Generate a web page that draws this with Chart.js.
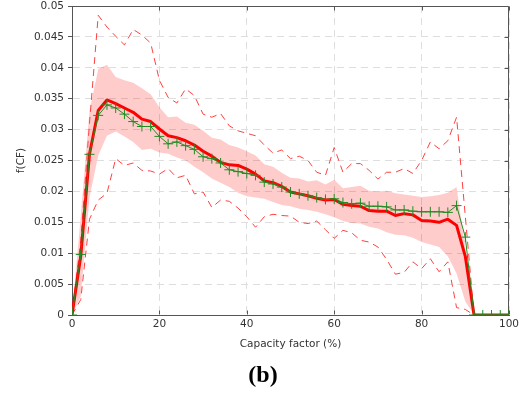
<!DOCTYPE html>
<html>
<head>
<meta charset="utf-8">
<script src="https://cdn.jsdelivr.net/npm/chart.js@4.4.1/dist/chart.umd.min.js"></script>
<style>
  html, body { margin: 0; padding: 0; background: #fff; }
  #wrap { position: relative; width: 520px; height: 394px; }
  #panel { position: absolute; top: 362px; left: 263px; transform: translateX(-50%);
           font: bold 24px "Liberation Serif", "Times New Roman", serif; line-height: 24px; color: #000; white-space: nowrap; }
</style>
</head>
<body>
<div id="wrap">
  <canvas id="c" width="520" height="394"></canvas>
  <div id="panel">(b)</div>
</div>
<script>
// Capacity factor (%) sample points
const capacityFactor = [0,2,4,6,8,10,12,14,16,18,20,22,24,26,28,30,32,34,36,38,40,42,44,46,48,50,
  52,54,56,58,60,62,64,66,68,70,72,74,76,78,80,82,84,86,88,90,92,94,96,98,100];

// Mean (thick red line)
const meanPdf = [0,0.0095,0.0260,0.0331,0.0348,0.0342,0.0335,0.0328,0.0317,0.0313,0.0301,0.0290,0.0287,0.0282,0.0275,0.0265,
  0.0257,0.0247,0.0243,0.0242,0.0236,0.0228,0.0217,0.0214,0.0208,0.0199,0.0196,0.0193,0.0189,0.0186,0.0187,0.0179,
  0.0177,0.0176,0.0169,0.0168,0.0168,0.0161,0.0164,0.0162,0.0153,0.0152,0.0150,0.0155,0.0145,0.0095,0,0,0,0,0];

// Green "+" series
const greenPdf = [0,0.0098,0.0260,0.0323,0.0340,0.0335,0.0325,0.0313,0.0305,0.0305,0.0289,0.0277,0.0280,0.0274,0.0268,0.0256,
  0.0253,0.0246,0.0235,0.0232,0.0229,0.0226,0.0215,0.0212,0.0207,0.0199,0.0196,0.0193,0.0190,0.0187,0.0188,0.0182,
  0.0180,0.0181,0.0176,0.0176,0.0175,0.0170,0.0170,0.0168,0.0167,0.0167,0.0167,0.0166,0.0177,0.0126,0,0,0,0,0];

// Shaded band (upper / lower)
const bandUpper = [0,0.0160,0.0330,0.0398,0.0405,0.0385,0.0380,0.0376,0.0367,0.0357,0.0336,0.0320,0.0321,0.0311,0.0308,0.0298,
  0.0287,0.0284,0.0275,0.0271,0.0265,0.0258,0.0244,0.0240,0.0230,0.0222,0.0221,0.0216,0.0218,0.0211,0.0219,0.0205,
  0.0207,0.0209,0.0201,0.0200,0.0201,0.0197,0.0195,0.0193,0.0191,0.0192,0.0194,0.0198,0.0207,0.0108,0,0,0,0,0];
const bandLower = [0,0.0030,0.0190,0.0258,0.0290,0.0297,0.0289,0.0280,0.0267,0.0269,0.0263,0.0261,0.0255,0.0250,0.0240,0.0231,
  0.0221,0.0214,0.0207,0.0198,0.0192,0.0190,0.0188,0.0183,0.0178,0.0176,0.0172,0.0170,0.0167,0.0163,0.0158,0.0152,
  0.0149,0.0148,0.0143,0.0140,0.0134,0.0130,0.0129,0.0125,0.0118,0.0114,0.0110,0.0095,0.0067,0.0022,0,0,0,0,0];

// Dashed envelopes (upper / lower)
const envUpper = [0,0.0120,0.0310,0.0485,0.0466,0.0451,0.0437,0.0462,0.0453,0.0440,0.0380,0.0352,0.0343,0.0366,0.0355,0.0325,
  0.0320,0.0326,0.0306,0.0298,0.0294,0.0290,0.0275,0.0262,0.0267,0.0253,0.0257,0.0250,0.0231,0.0226,0.0271,0.0231,
  0.0245,0.0245,0.0234,0.0220,0.0231,0.0231,0.0237,0.0229,0.0250,0.0280,0.0269,0.0282,0.0320,0.0160,0,0,0,0,0];
const envLower = [0,0.0025,0.0155,0.0186,0.0197,0.0253,0.0242,0.0246,0.0234,0.0233,0.0228,0.0237,0.0222,0.0226,0.0196,0.0199,
  0.0174,0.0186,0.0184,0.0173,0.0159,0.0142,0.0159,0.0163,0.0161,0.0160,0.0150,0.0148,0.0152,0.0138,0.0124,0.0137,
  0.0133,0.0121,0.0118,0.0110,0.0090,0.0066,0.0069,0.0086,0.0075,0.0091,0.0070,0.0086,0.0012,0.0009,0,0,0,0,0];

// Tick labels
const xTickLabels = ['0','20','40','60','80','100'];
const yTickLabels = ['0','0.005','0.01','0.015','0.02','0.025','0.03','0.035','0.04','0.045','0.05'];

const pts = arr => capacityFactor.map((x, i) => ({x: x, y: arr[i]}));
const FONT = {family: 'DejaVu Sans', size: 10.5};
const TXT = '#333333';
const AXIS = '#555555';

const boxPlugin = {
  id: 'box',
  beforeDatasetsDraw(chart) {
    const {ctx, chartArea: a, scales} = chart;
    const L = Math.round(a.left) + 0.5, R = Math.round(a.right) - 0.5;
    const T = Math.round(a.top) + 0.5, B = Math.round(a.bottom) - 0.5;
    ctx.save();
    ctx.strokeStyle = AXIS; ctx.lineWidth = 1; ctx.setLineDash([]);
    ctx.beginPath();
    ctx.moveTo(L, T); ctx.lineTo(R, T); ctx.lineTo(R, B);
    scales.x.ticks.forEach(t => {
      const px = Math.round(scales.x.getPixelForValue(t.value)) + 0.5;
      ctx.moveTo(px, T); ctx.lineTo(px, T + 4);
      ctx.moveTo(px, B); ctx.lineTo(px, B - 4);
    });
    scales.y.ticks.forEach(t => {
      const py = Math.round(scales.y.getPixelForValue(t.value)) + 0.5;
      ctx.moveTo(R, py); ctx.lineTo(R - 4, py);
    });
    ctx.stroke();
    ctx.restore();
  }
};

new Chart(document.getElementById('c'), {
  type: 'line',
  data: {
    datasets: [
      { data: pts(greenPdf), borderColor: '#228b22', borderWidth: 1, pointStyle: 'cross',
        pointRadius: 5, pointBorderColor: '#228b22', pointBorderWidth: 1, fill: false },
      { data: pts(meanPdf), borderColor: '#ff0000', borderWidth: 3, pointRadius: 0, fill: false,
        borderJoinStyle: 'round' },
      { data: pts(envUpper), borderColor: '#ff4040', borderWidth: 1, borderDash: [7, 5], pointRadius: 0, fill: false },
      { data: pts(envLower), borderColor: '#ff4040', borderWidth: 1, borderDash: [7, 5], pointRadius: 0, fill: false },
      { data: pts(bandUpper), borderColor: 'rgba(0,0,0,0)', borderWidth: 1, pointRadius: 0,
        backgroundColor: 'rgba(255,0,0,0.2)', fill: '+1' },
      { data: pts(bandLower), borderColor: 'rgba(0,0,0,0)', borderWidth: 1, pointRadius: 0, fill: false }
    ]
  },
  options: {
    responsive: false,
    animation: false,
    devicePixelRatio: 1,
    layout: { padding: { top: 5, right: 11, left: 0, bottom: 0 } },
    plugins: { legend: { display: false }, tooltip: { enabled: false } },
    elements: { line: { tension: 0 } },
    scales: {
      x: {
        type: 'linear', min: 0, max: 100,
        afterFit: s => { s.height = 79; s.paddingLeft = 0; s.paddingRight = 0; },
        ticks: { stepSize: 20, font: FONT, color: TXT, padding: 3, maxRotation: 0,
                 callback: (v) => xTickLabels[Math.round(v / 20)] },
        grid: { color: '#dedede', lineWidth: 1, drawTicks: false },
        border: { display: true, color: AXIS, width: 1, dash: [7, 5] },
        title: { display: true, text: 'Capacity factor (%)', font: FONT, color: TXT,
                 padding: { top: 0, bottom: 43 } }
      },
      y: {
        type: 'linear', min: 0, max: 0.05,
        afterFit: s => { s.width = 72; s.paddingTop = 0; s.paddingBottom = 0; },
        ticks: { stepSize: 0.005, font: FONT, color: TXT, padding: 4,
                 callback: (v) => yTickLabels[Math.round(v / 0.005)] },
        grid: { color: '#dedede', lineWidth: 1, drawTicks: true, tickLength: 4,
                tickColor: AXIS, tickBorderDash: [] },
        border: { display: true, color: AXIS, width: 1, dash: [7, 5] },
        title: { display: true, text: 'f(CF)', font: FONT, color: TXT,
                 padding: { top: 15, bottom: 0 } }
      }
    }
  },
  plugins: [boxPlugin]
});
</script>
</body>
</html>
